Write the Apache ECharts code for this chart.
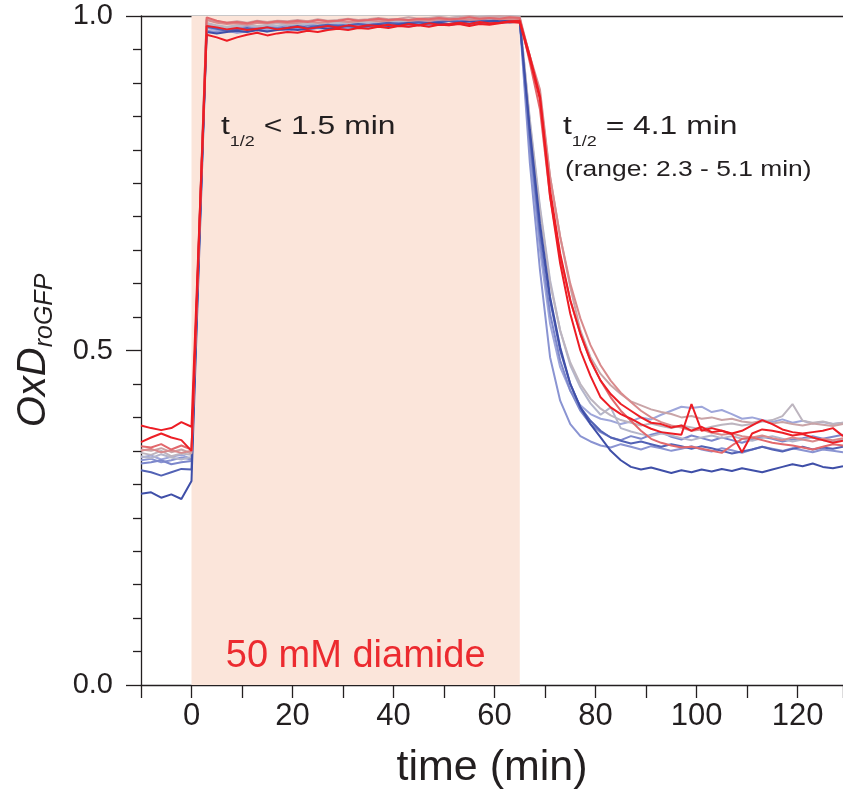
<!DOCTYPE html>
<html><head><meta charset="utf-8">
<script src="https://cdn.jsdelivr.net/npm/echarts@6/dist/echarts.min.js"></script>
<style>html,body{margin:0;padding:0;background:#fff}#c{width:843px;height:790px}</style>
</head><body><div id="c"></div><script>
// time points (min)
const times = [-10,-8,-6,-4,-2,0,
  3,5,7,9,11,13,15,17,19,21,23,25,27,29,31,33,35,37,39,41,43,45,47,49,51,53,55,57,59,61,63,65,
  67,69,71,73,75,77,79,81,83,85,87,89,91,93,95,97,99,101,103,105,107,109,111,113,115,117,119,121,123,125,127,129];

// OxD values per cell trace
const red1 = [0.388,0.384,0.381,0.384,0.393,0.386,
  0.972,0.968,0.963,0.968,0.972,0.975,0.971,0.974,0.976,0.975,0.978,0.976,0.979,0.981,0.979,0.982,0.981,0.984,0.982,0.985,0.984,0.986,0.984,0.987,0.986,0.988,0.985,0.988,0.987,0.989,0.991,0.99,
  0.935,0.875,0.73,0.63,0.555,0.50,0.462,0.43,0.415,0.405,0.398,0.39,0.383,0.378,0.376,0.374,0.42,0.38,0.384,0.38,0.376,0.38,0.388,0.396,0.39,0.382,0.378,0.376,0.378,0.38,0.384,0.372];
const red2 = [0.363,0.37,0.376,0.37,0.366,0.35,
  0.985,0.983,0.98,0.982,0.979,0.981,0.983,0.98,0.982,0.984,0.981,0.983,0.985,0.983,0.986,0.984,0.986,0.985,0.987,0.985,0.988,0.986,0.989,0.987,0.988,0.99,0.988,0.991,0.989,0.99,0.992,0.993,
  0.94,0.88,0.74,0.645,0.575,0.525,0.485,0.455,0.435,0.42,0.41,0.4,0.392,0.39,0.385,0.388,0.38,0.386,0.378,0.38,0.375,0.348,0.376,0.382,0.38,0.377,0.373,0.375,0.37,0.366,0.362,0.365];
const salmon1 = [0.357,0.355,0.36,0.352,0.358,0.352,
  0.998,0.993,0.99,0.991,0.989,0.992,0.99,0.992,0.991,0.993,0.991,0.994,0.992,0.993,0.995,0.993,0.994,0.996,0.994,0.995,0.994,0.996,0.995,0.997,0.995,0.996,0.998,0.996,0.997,0.996,0.998,0.997,
  0.93,0.86,0.73,0.64,0.575,0.525,0.485,0.455,0.43,0.41,0.395,0.38,0.368,0.362,0.358,0.355,0.356,0.353,0.35,0.347,0.358,0.368,0.37,0.366,0.362,0.36,0.358,0.355,0.352,0.356,0.36,0.358];
const salmon2 = [0.35,0.353,0.348,0.351,0.347,0.35,
  0.994,0.99,0.988,0.989,0.987,0.99,0.989,0.991,0.989,0.99,0.992,0.99,0.991,0.993,0.991,0.992,0.994,0.992,0.993,0.995,0.993,0.994,0.993,0.995,0.994,0.996,0.994,0.995,0.997,0.995,0.996,0.995,
  0.94,0.89,0.76,0.67,0.60,0.548,0.508,0.478,0.455,0.437,0.423,0.41,0.40,0.393,0.388,0.385,0.38,0.382,0.377,0.374,0.376,0.372,0.37,0.373,0.369,0.366,0.37,0.367,0.364,0.368,0.366,0.369];
const rose1 = [0.352,0.35,0.354,0.348,0.352,0.346,
  0.996,0.992,0.99,0.992,0.99,0.993,0.991,0.993,0.992,0.994,0.992,0.995,0.993,0.994,0.996,0.994,0.995,0.997,0.995,0.996,0.998,0.996,0.997,0.999,0.997,0.998,1.0,0.998,0.999,1.0,0.999,0.998,
  0.94,0.88,0.76,0.67,0.595,0.53,0.49,0.465,0.448,0.435,0.424,0.418,0.412,0.408,0.405,0.40,0.402,0.398,0.40,0.396,0.398,0.394,0.392,0.395,0.391,0.393,0.39,0.388,0.391,0.389,0.387,0.39];
const grey1 = [0.347,0.344,0.35,0.342,0.346,0.344,
  0.99,0.986,0.984,0.986,0.988,0.985,0.987,0.989,0.987,0.988,0.99,0.988,0.99,0.992,0.99,0.991,0.993,0.991,0.993,0.995,0.993,0.995,0.997,0.995,0.997,0.999,0.997,0.999,1.0,0.998,1.0,0.999,
  0.84,0.71,0.60,0.53,0.482,0.45,0.428,0.413,0.403,0.396,0.392,0.388,0.391,0.387,0.384,0.388,0.385,0.382,0.386,0.389,0.391,0.388,0.39,0.394,0.396,0.402,0.42,0.395,0.392,0.394,0.39,0.392];
const grey2 = [0.342,0.339,0.345,0.34,0.337,0.341,
  0.988,0.985,0.982,0.984,0.986,0.984,0.986,0.985,0.988,0.986,0.988,0.99,0.988,0.99,0.989,0.991,0.99,0.992,0.991,0.993,0.992,0.994,0.993,0.995,0.994,0.996,0.995,0.997,0.996,0.998,0.997,0.996,
  0.845,0.715,0.605,0.53,0.478,0.445,0.421,0.404,0.415,0.384,0.379,0.375,0.372,0.376,0.373,0.369,0.366,0.37,0.373,0.369,0.372,0.368,0.365,0.369,0.372,0.368,0.364,0.367,0.37,0.366,0.363,0.367];
const lblue1 = [0.34,0.343,0.337,0.341,0.344,0.338,
  0.982,0.979,0.977,0.98,0.978,0.981,0.979,0.982,0.98,0.983,0.981,0.984,0.982,0.985,0.983,0.986,0.984,0.987,0.985,0.988,0.986,0.989,0.987,0.99,0.988,0.991,0.989,0.992,0.99,0.993,0.992,0.994,
  0.80,0.65,0.54,0.475,0.44,0.418,0.405,0.398,0.395,0.39,0.394,0.40,0.397,0.404,0.41,0.416,0.414,0.416,0.408,0.411,0.405,0.398,0.40,0.396,0.393,0.397,0.392,0.395,0.391,0.393,0.39,0.392];
const lblue2 = [0.336,0.338,0.333,0.336,0.34,0.337,
  0.978,0.976,0.978,0.975,0.977,0.979,0.977,0.98,0.978,0.981,0.979,0.982,0.98,0.983,0.981,0.984,0.982,0.985,0.983,0.986,0.984,0.987,0.985,0.988,0.986,0.989,0.987,0.99,0.988,0.991,0.99,0.992,
  0.78,0.62,0.49,0.425,0.39,0.372,0.364,0.358,0.355,0.36,0.356,0.352,0.357,0.354,0.35,0.353,0.357,0.352,0.349,0.354,0.351,0.347,0.352,0.356,0.353,0.35,0.354,0.351,0.348,0.352,0.35,0.348];
const lblue3 = [0.331,0.333,0.336,0.33,0.333,0.335,
  0.986,0.983,0.981,0.983,0.985,0.983,0.985,0.984,0.986,0.988,0.986,0.987,0.989,0.987,0.989,0.99,0.988,0.99,0.992,0.99,0.992,0.993,0.991,0.993,0.995,0.993,0.995,0.996,0.994,0.996,0.997,0.995,
  0.81,0.665,0.555,0.485,0.44,0.41,0.39,0.378,0.37,0.366,0.372,0.368,0.374,0.378,0.371,0.367,0.373,0.369,0.365,0.37,0.366,0.362,0.367,0.371,0.368,0.364,0.367,0.369,0.372,0.368,0.371,0.374];
const blue1 = [0.321,0.318,0.313,0.318,0.323,0.322,
  0.984,0.981,0.978,0.98,0.982,0.98,0.983,0.981,0.983,0.985,0.983,0.985,0.987,0.985,0.986,0.988,0.986,0.988,0.99,0.988,0.99,0.991,0.989,0.991,0.993,0.991,0.993,0.994,0.992,0.994,0.995,0.994,
  0.82,0.68,0.575,0.50,0.45,0.415,0.395,0.38,0.37,0.365,0.361,0.364,0.36,0.356,0.36,0.357,0.353,0.357,0.354,0.35,0.346,0.349,0.352,0.356,0.352,0.349,0.353,0.356,0.352,0.355,0.353,0.356];
const blue2 = [0.286,0.288,0.28,0.285,0.278,0.305,
  0.976,0.974,0.976,0.978,0.976,0.979,0.977,0.979,0.981,0.979,0.981,0.983,0.981,0.983,0.985,0.983,0.985,0.987,0.985,0.987,0.989,0.987,0.989,0.99,0.988,0.99,0.992,0.99,0.992,0.993,0.992,0.991,
  0.83,0.69,0.58,0.505,0.45,0.415,0.39,0.37,0.35,0.336,0.326,0.322,0.325,0.321,0.317,0.321,0.318,0.322,0.319,0.323,0.32,0.324,0.321,0.318,0.322,0.326,0.33,0.327,0.331,0.326,0.324,0.327];

// diamide treatment window (min)
const treatStart = 0, treatEnd = 65;
const treatLabel = '50 mM diamide';

const FONT = '"Liberation Sans", Arial, Helvetica, sans-serif';
const AX = '#231f20';

const traces = [
  {d: lblue1, c: '#9ea6da'},
  {d: lblue2, c: '#8a94d2'},
  {d: lblue3, c: '#7c87cb'},
  {d: grey2, c: '#b4b6cb'},
  {d: grey1, c: '#bdb5bf'},
  {d: blue1, c: '#5262b5'},
  {d: blue2, c: '#3f4fa8'},
  {d: rose1, c: '#c9a4a7'},
  {d: salmon2, c: '#d98a8c'},
  {d: salmon1, c: '#e2686c'},
  {d: red2, c: '#ed1f26'},
  {d: red1, c: '#ed1c24'}
];

const series = traces.map((tr, k) => ({
  type: 'line', symbol: 'none', showSymbol: false, silent: true,
  lineStyle: {width: 2, color: tr.c}, itemStyle: {color: tr.c},
  data: times.map((t, i) => [t, tr.d[i]]),
  z: 2
}));
series[0].markArea = {
  silent: true,
  itemStyle: {color: '#fbe5da'},
  label: {show: true, position: 'insideBottom', distance: 9, color: '#ec2a2f', fontSize: 38, fontFamily: FONT},
  data: [[{name: treatLabel, xAxis: treatStart, yAxis: 0}, {xAxis: treatEnd, yAxis: 1}]]
};

const lineSt = {color: AX, width: 1.3};
const subRich = {
  m: {fontSize: 26.5, lineHeight: 30, verticalAlign: 'top', fontFamily: FONT, fill: AX},
  s: {fontSize: 15, lineHeight: 18, padding: [21, 0, 0, 0], verticalAlign: 'top', fontFamily: FONT, fill: AX}
};
const option = {
  animation: false,
  backgroundColor: '#ffffff',
  grid: {left: 141, right: 0, top: 16, bottom: 105, containLabel: false, outerBoundsMode: 'none'},
  xAxis: [{
    type: 'value', min: -10, max: 129, interval: 10,
    axisLine: {show: true, onZero: false, lineStyle: lineSt},
    axisTick: {show: true, inside: false, length: 13, lineStyle: lineSt},
    axisLabel: {formatter: v => (v >= 0 && Math.abs(v % 20) < 1e-6) ? String(v) : '', fontSize: 31, color: AX, fontFamily: FONT, margin: 16},
    splitLine: {show: false},
    name: 'time (min)', nameLocation: 'middle', nameGap: 62,
    nameTextStyle: {fontSize: 43, color: AX, fontFamily: FONT}
  }, {
    type: 'value', position: 'top', min: -10, max: 129,
    axisLine: {show: true, onZero: false, lineStyle: lineSt},
    axisTick: {show: false}, axisLabel: {show: false}, splitLine: {show: false}
  }],
  yAxis: {
    type: 'value', min: 0, max: 1, interval: 0.5,
    axisLine: {show: true, onZero: false, lineStyle: lineSt},
    axisTick: {show: true, length: 15, lineStyle: lineSt},
    minorTick: {show: true, splitNumber: 10, length: 8, lineStyle: lineSt},
    axisLabel: {formatter: v => v.toFixed(1), fontSize: 29, color: AX, fontFamily: FONT, margin: 28},
    splitLine: {show: false}, minorSplitLine: {show: false},
    name: '{a|OxD}{b|roGFP}', nameLocation: 'middle', nameRotate: 90, nameGap: 83,
    nameTextStyle: {
      color: AX, fontFamily: FONT,
      rich: {
        a: {fontSize: 40, fontStyle: 'italic', lineHeight: 44, verticalAlign: 'top', color: AX, fontFamily: FONT},
        b: {fontSize: 25, fontStyle: 'italic', lineHeight: 26, padding: [19, 0, 0, 0], verticalAlign: 'top', color: AX, fontFamily: FONT}
      }
    }
  },
  series: series,
  graphic: [
    {type: 'text', x: 221, y: 113, scaleX: 1.2, z: 100, silent: true, style: {
      text: '{m|t}{s|1/2}{m| < 1.5 min}', verticalAlign: 'top', align: 'left', rich: subRich}},
    {type: 'text', x: 563, y: 113, scaleX: 1.2, z: 100, silent: true, style: {
      text: '{m|t}{s|1/2}{m| = 4.1 min}', verticalAlign: 'top', align: 'left', rich: subRich}},
    {type: 'text', x: 565, y: 170, scaleX: 1.2, z: 100, silent: true, style: {
      text: '(range: 2.3 - 5.1 min)', verticalAlign: 'middle', align: 'left',
      fontSize: 22, fontFamily: FONT, fill: AX}}
  ]
};
const chart = echarts.init(document.getElementById('c'), null, {renderer: 'canvas'});
chart.setOption(option);
</script></body></html>
